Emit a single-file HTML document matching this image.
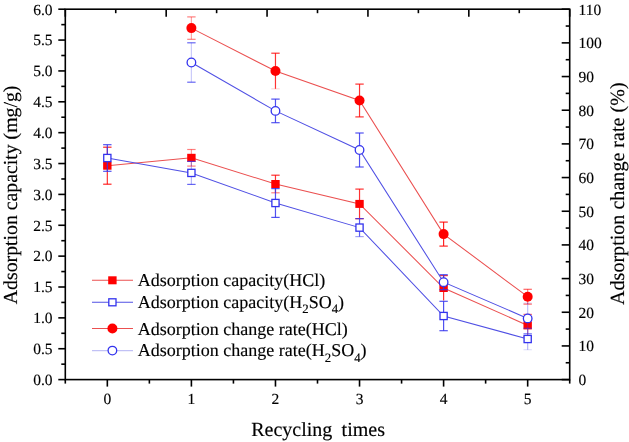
<!DOCTYPE html><html><head><meta charset="utf-8"><style>html,body{margin:0;padding:0;background:#fff;}svg{display:block}text{font-family:"Liberation Serif",serif;fill:#000;stroke:#000;stroke-width:0.15px;text-rendering:geometricPrecision}</style></head><body>
<div style="will-change:transform;width:629px;height:442px">
<svg width="629" height="442" viewBox="0 0 629 442">
<rect width="629" height="442" fill="#fff"/>
<polyline points="107.33,165.70 191.40,157.80 275.47,184.00 359.53,203.90 443.60,288.00 527.67,325.40" fill="none" stroke="#eb5050" stroke-width="1.05"/>
<line x1="107.33" y1="147.20" x2="107.33" y2="184.20" stroke="#ff0000" stroke-width="1.2" opacity="0.8"/>
<line x1="103.13" y1="147.20" x2="111.53" y2="147.20" stroke="#ff0000" stroke-width="1.2" opacity="0.85"/>
<line x1="103.13" y1="184.20" x2="111.53" y2="184.20" stroke="#ff0000" stroke-width="1.2" opacity="0.85"/>
<line x1="191.40" y1="149.50" x2="191.40" y2="166.10" stroke="#ff0000" stroke-width="1.2" opacity="0.4"/>
<line x1="187.20" y1="149.50" x2="195.60" y2="149.50" stroke="#ff0000" stroke-width="1.2" opacity="0.5"/>
<line x1="187.20" y1="166.10" x2="195.60" y2="166.10" stroke="#ff0000" stroke-width="1.2" opacity="0.5"/>
<line x1="275.47" y1="175.20" x2="275.47" y2="192.80" stroke="#ff0000" stroke-width="1.2" opacity="0.8"/>
<line x1="271.27" y1="175.20" x2="279.67" y2="175.20" stroke="#ff0000" stroke-width="1.2" opacity="0.8"/>
<line x1="271.27" y1="192.80" x2="279.67" y2="192.80" stroke="#ff0000" stroke-width="1.2" opacity="0.5"/>
<line x1="359.53" y1="189.10" x2="359.53" y2="218.70" stroke="#ff0000" stroke-width="1.2" opacity="0.8"/>
<line x1="355.33" y1="189.10" x2="363.73" y2="189.10" stroke="#ff0000" stroke-width="1.2" opacity="0.8"/>
<line x1="355.33" y1="218.70" x2="363.73" y2="218.70" stroke="#ff0000" stroke-width="1.2" opacity="0.8"/>
<line x1="443.60" y1="275.60" x2="443.60" y2="300.40" stroke="#ff0000" stroke-width="1.2" opacity="0.8"/>
<line x1="439.40" y1="275.60" x2="447.80" y2="275.60" stroke="#ff0000" stroke-width="1.2" opacity="0.8"/>
<line x1="527.67" y1="314.40" x2="527.67" y2="336.40" stroke="#ff0000" stroke-width="1.2" opacity="0.5"/>
<line x1="523.47" y1="314.40" x2="531.87" y2="314.40" stroke="#ff0000" stroke-width="1.2" opacity="0.6"/>
<line x1="523.47" y1="336.40" x2="531.87" y2="336.40" stroke="#ff0000" stroke-width="1.2" opacity="0.6"/>
<rect x="103.13" y="161.70" width="8.4" height="8.0" fill="#ff0000"/>
<rect x="187.20" y="153.80" width="8.4" height="8.0" fill="#ff0000"/>
<rect x="271.27" y="180.00" width="8.4" height="8.0" fill="#ff0000"/>
<rect x="355.33" y="199.90" width="8.4" height="8.0" fill="#ff0000"/>
<rect x="439.40" y="284.00" width="8.4" height="8.0" fill="#ff0000"/>
<rect x="523.47" y="321.40" width="8.4" height="8.0" fill="#ff0000"/>
<polyline points="107.33,158.00 191.40,172.90 275.47,203.00 359.53,227.60 443.60,316.00 527.67,339.00" fill="none" stroke="#5050e4" stroke-width="1.05"/>
<line x1="107.33" y1="144.70" x2="107.33" y2="171.30" stroke="#3333ee" stroke-width="1.2" opacity="0.85"/>
<line x1="103.13" y1="144.70" x2="111.53" y2="144.70" stroke="#3333ee" stroke-width="1.2" opacity="0.85"/>
<line x1="103.13" y1="171.30" x2="111.53" y2="171.30" stroke="#3333ee" stroke-width="1.2" opacity="0.85"/>
<line x1="191.40" y1="161.40" x2="191.40" y2="184.40" stroke="#3333ee" stroke-width="1.2" opacity="0.35"/>
<line x1="187.20" y1="161.40" x2="195.60" y2="161.40" stroke="#3333ee" stroke-width="1.2" opacity="0.75"/>
<line x1="187.20" y1="184.40" x2="195.60" y2="184.40" stroke="#3333ee" stroke-width="1.2" opacity="0.75"/>
<line x1="275.47" y1="188.60" x2="275.47" y2="217.40" stroke="#3333ee" stroke-width="1.2" opacity="0.85"/>
<line x1="271.27" y1="188.60" x2="279.67" y2="188.60" stroke="#3333ee" stroke-width="1.2" opacity="0.85"/>
<line x1="271.27" y1="217.40" x2="279.67" y2="217.40" stroke="#3333ee" stroke-width="1.2" opacity="0.85"/>
<line x1="359.53" y1="218.60" x2="359.53" y2="236.60" stroke="#3333ee" stroke-width="1.2" opacity="0.8"/>
<line x1="355.33" y1="218.60" x2="363.73" y2="218.60" stroke="#3333ee" stroke-width="1.2" opacity="0.8"/>
<line x1="355.33" y1="236.60" x2="363.73" y2="236.60" stroke="#3333ee" stroke-width="1.2" opacity="0.45"/>
<line x1="443.60" y1="301.30" x2="443.60" y2="330.70" stroke="#3333ee" stroke-width="1.2" opacity="0.85"/>
<line x1="439.40" y1="301.30" x2="447.80" y2="301.30" stroke="#3333ee" stroke-width="1.2" opacity="0.85"/>
<line x1="439.40" y1="330.70" x2="447.80" y2="330.70" stroke="#3333ee" stroke-width="1.2" opacity="0.85"/>
<line x1="527.67" y1="328.30" x2="527.67" y2="349.70" stroke="#3333ee" stroke-width="1.2" opacity="0.35"/>
<line x1="523.47" y1="328.30" x2="531.87" y2="328.30" stroke="#3333ee" stroke-width="1.2" opacity="0.6"/>
<line x1="523.47" y1="349.70" x2="531.87" y2="349.70" stroke="#3333ee" stroke-width="1.2" opacity="0.15"/>
<rect x="103.73" y="154.40" width="7.2" height="7.2" fill="#fff" stroke="#3333ee" stroke-width="1.3"/>
<rect x="187.80" y="169.30" width="7.2" height="7.2" fill="#fff" stroke="#3333ee" stroke-width="1.3"/>
<rect x="271.87" y="199.40" width="7.2" height="7.2" fill="#fff" stroke="#3333ee" stroke-width="1.3"/>
<rect x="355.93" y="224.00" width="7.2" height="7.2" fill="#fff" stroke="#3333ee" stroke-width="1.3"/>
<rect x="440.00" y="312.40" width="7.2" height="7.2" fill="#fff" stroke="#3333ee" stroke-width="1.3"/>
<rect x="524.07" y="335.40" width="7.2" height="7.2" fill="#fff" stroke="#3333ee" stroke-width="1.3"/>
<polyline points="191.40,28.10 275.47,71.00 359.53,100.50 443.60,234.10 527.67,296.70" fill="none" stroke="#eb5050" stroke-width="1.05"/>
<line x1="191.40" y1="16.90" x2="191.40" y2="39.30" stroke="#ff0000" stroke-width="1.2" opacity="0.35"/>
<line x1="187.20" y1="16.90" x2="195.60" y2="16.90" stroke="#ff0000" stroke-width="1.2" opacity="0.5"/>
<line x1="187.20" y1="39.30" x2="195.60" y2="39.30" stroke="#ff0000" stroke-width="1.2" opacity="0.5"/>
<line x1="275.47" y1="53.20" x2="275.47" y2="88.80" stroke="#ff0000" stroke-width="1.2" opacity="0.8"/>
<line x1="271.27" y1="53.20" x2="279.67" y2="53.20" stroke="#ff0000" stroke-width="1.2" opacity="0.8"/>
<line x1="271.27" y1="88.80" x2="279.67" y2="88.80" stroke="#ff0000" stroke-width="1.2" opacity="0.15"/>
<line x1="359.53" y1="84.10" x2="359.53" y2="116.90" stroke="#ff0000" stroke-width="1.2" opacity="0.8"/>
<line x1="355.33" y1="84.10" x2="363.73" y2="84.10" stroke="#ff0000" stroke-width="1.2" opacity="0.8"/>
<line x1="355.33" y1="116.90" x2="363.73" y2="116.90" stroke="#ff0000" stroke-width="1.2" opacity="0.8"/>
<line x1="443.60" y1="222.10" x2="443.60" y2="246.10" stroke="#ff0000" stroke-width="1.2" opacity="0.85"/>
<line x1="439.40" y1="222.10" x2="447.80" y2="222.10" stroke="#ff0000" stroke-width="1.2" opacity="0.85"/>
<line x1="439.40" y1="246.10" x2="447.80" y2="246.10" stroke="#ff0000" stroke-width="1.2" opacity="0.85"/>
<line x1="527.67" y1="289.30" x2="527.67" y2="304.10" stroke="#ff0000" stroke-width="1.2" opacity="0.5"/>
<line x1="523.47" y1="289.30" x2="531.87" y2="289.30" stroke="#ff0000" stroke-width="1.2" opacity="0.6"/>
<line x1="523.47" y1="304.10" x2="531.87" y2="304.10" stroke="#ff0000" stroke-width="1.2" opacity="0.6"/>
<circle cx="191.40" cy="28.10" r="5.0" fill="#ff0000"/>
<circle cx="275.47" cy="71.00" r="5.0" fill="#ff0000"/>
<circle cx="359.53" cy="100.50" r="5.0" fill="#ff0000"/>
<circle cx="443.60" cy="234.10" r="5.0" fill="#ff0000"/>
<circle cx="527.67" cy="296.70" r="5.0" fill="#ff0000"/>
<polyline points="191.40,62.50 275.47,110.90 359.53,150.00 443.60,282.20 527.67,318.40" fill="none" stroke="#5050e4" stroke-width="1.05"/>
<line x1="191.40" y1="42.80" x2="191.40" y2="82.20" stroke="#3333ee" stroke-width="1.2" opacity="0.25"/>
<line x1="187.20" y1="42.80" x2="195.60" y2="42.80" stroke="#3333ee" stroke-width="1.2" opacity="0.75"/>
<line x1="187.20" y1="82.20" x2="195.60" y2="82.20" stroke="#3333ee" stroke-width="1.2" opacity="0.75"/>
<line x1="275.47" y1="99.10" x2="275.47" y2="122.70" stroke="#3333ee" stroke-width="1.2" opacity="0.85"/>
<line x1="271.27" y1="99.10" x2="279.67" y2="99.10" stroke="#3333ee" stroke-width="1.2" opacity="0.85"/>
<line x1="271.27" y1="122.70" x2="279.67" y2="122.70" stroke="#3333ee" stroke-width="1.2" opacity="0.85"/>
<line x1="359.53" y1="133.00" x2="359.53" y2="167.00" stroke="#3333ee" stroke-width="1.2" opacity="0.85"/>
<line x1="355.33" y1="133.00" x2="363.73" y2="133.00" stroke="#3333ee" stroke-width="1.2" opacity="0.85"/>
<line x1="355.33" y1="167.00" x2="363.73" y2="167.00" stroke="#3333ee" stroke-width="1.2" opacity="0.85"/>
<line x1="443.60" y1="274.70" x2="443.60" y2="289.70" stroke="#3333ee" stroke-width="1.2" opacity="0.85"/>
<line x1="439.40" y1="274.70" x2="447.80" y2="274.70" stroke="#3333ee" stroke-width="1.2" opacity="0.85"/>
<line x1="439.40" y1="289.70" x2="447.80" y2="289.70" stroke="#3333ee" stroke-width="1.2" opacity="0.85"/>
<line x1="527.67" y1="303.10" x2="527.67" y2="333.70" stroke="#3333ee" stroke-width="1.2" opacity="0.3"/>
<line x1="523.47" y1="303.10" x2="531.87" y2="303.10" stroke="#3333ee" stroke-width="1.2" opacity="0.15"/>
<line x1="523.47" y1="333.70" x2="531.87" y2="333.70" stroke="#3333ee" stroke-width="1.2" opacity="0.6"/>
<circle cx="191.40" cy="62.50" r="4.3" fill="#fff" stroke="#3333ee" stroke-width="1.3"/>
<circle cx="275.47" cy="110.90" r="4.3" fill="#fff" stroke="#3333ee" stroke-width="1.3"/>
<circle cx="359.53" cy="150.00" r="4.3" fill="#fff" stroke="#3333ee" stroke-width="1.3"/>
<circle cx="443.60" cy="282.20" r="4.3" fill="#fff" stroke="#3333ee" stroke-width="1.3"/>
<circle cx="527.67" cy="318.40" r="4.3" fill="#fff" stroke="#3333ee" stroke-width="1.3"/>
<g stroke="#000" stroke-width="1.6" fill="none">
<rect x="65.3" y="9.2" width="504.40" height="370.40"/>
<line x1="58.3" y1="379.60" x2="65.3" y2="379.60"/>
<line x1="61.3" y1="364.17" x2="65.3" y2="364.17"/>
<line x1="58.3" y1="348.73" x2="65.3" y2="348.73"/>
<line x1="61.3" y1="333.30" x2="65.3" y2="333.30"/>
<line x1="58.3" y1="317.87" x2="65.3" y2="317.87"/>
<line x1="61.3" y1="302.43" x2="65.3" y2="302.43"/>
<line x1="58.3" y1="287.00" x2="65.3" y2="287.00"/>
<line x1="61.3" y1="271.57" x2="65.3" y2="271.57"/>
<line x1="58.3" y1="256.13" x2="65.3" y2="256.13"/>
<line x1="61.3" y1="240.70" x2="65.3" y2="240.70"/>
<line x1="58.3" y1="225.27" x2="65.3" y2="225.27"/>
<line x1="61.3" y1="209.83" x2="65.3" y2="209.83"/>
<line x1="58.3" y1="194.40" x2="65.3" y2="194.40"/>
<line x1="61.3" y1="178.97" x2="65.3" y2="178.97"/>
<line x1="58.3" y1="163.53" x2="65.3" y2="163.53"/>
<line x1="61.3" y1="148.10" x2="65.3" y2="148.10"/>
<line x1="58.3" y1="132.67" x2="65.3" y2="132.67"/>
<line x1="61.3" y1="117.23" x2="65.3" y2="117.23"/>
<line x1="58.3" y1="101.80" x2="65.3" y2="101.80"/>
<line x1="61.3" y1="86.37" x2="65.3" y2="86.37"/>
<line x1="58.3" y1="70.93" x2="65.3" y2="70.93"/>
<line x1="61.3" y1="55.50" x2="65.3" y2="55.50"/>
<line x1="58.3" y1="40.07" x2="65.3" y2="40.07"/>
<line x1="61.3" y1="24.63" x2="65.3" y2="24.63"/>
<line x1="58.3" y1="9.20" x2="65.3" y2="9.20"/>
<line x1="561.7" y1="379.60" x2="569.7" y2="379.60"/>
<line x1="565.7" y1="362.76" x2="569.7" y2="362.76"/>
<line x1="561.7" y1="345.93" x2="569.7" y2="345.93"/>
<line x1="565.7" y1="329.09" x2="569.7" y2="329.09"/>
<line x1="561.7" y1="312.25" x2="569.7" y2="312.25"/>
<line x1="565.7" y1="295.42" x2="569.7" y2="295.42"/>
<line x1="561.7" y1="278.58" x2="569.7" y2="278.58"/>
<line x1="565.7" y1="261.75" x2="569.7" y2="261.75"/>
<line x1="561.7" y1="244.91" x2="569.7" y2="244.91"/>
<line x1="565.7" y1="228.07" x2="569.7" y2="228.07"/>
<line x1="561.7" y1="211.24" x2="569.7" y2="211.24"/>
<line x1="565.7" y1="194.40" x2="569.7" y2="194.40"/>
<line x1="561.7" y1="177.56" x2="569.7" y2="177.56"/>
<line x1="565.7" y1="160.73" x2="569.7" y2="160.73"/>
<line x1="561.7" y1="143.89" x2="569.7" y2="143.89"/>
<line x1="565.7" y1="127.05" x2="569.7" y2="127.05"/>
<line x1="561.7" y1="110.22" x2="569.7" y2="110.22"/>
<line x1="565.7" y1="93.38" x2="569.7" y2="93.38"/>
<line x1="561.7" y1="76.55" x2="569.7" y2="76.55"/>
<line x1="565.7" y1="59.71" x2="569.7" y2="59.71"/>
<line x1="561.7" y1="42.87" x2="569.7" y2="42.87"/>
<line x1="565.7" y1="26.04" x2="569.7" y2="26.04"/>
<line x1="561.7" y1="9.20" x2="569.7" y2="9.20"/>
<line x1="65.30" y1="379.6" x2="65.30" y2="383.6"/>
<line x1="107.33" y1="379.6" x2="107.33" y2="386.6"/>
<line x1="149.37" y1="379.6" x2="149.37" y2="383.6"/>
<line x1="191.40" y1="379.6" x2="191.40" y2="386.6"/>
<line x1="233.43" y1="379.6" x2="233.43" y2="383.6"/>
<line x1="275.47" y1="379.6" x2="275.47" y2="386.6"/>
<line x1="317.50" y1="379.6" x2="317.50" y2="383.6"/>
<line x1="359.53" y1="379.6" x2="359.53" y2="386.6"/>
<line x1="401.57" y1="379.6" x2="401.57" y2="383.6"/>
<line x1="443.60" y1="379.6" x2="443.60" y2="386.6"/>
<line x1="485.63" y1="379.6" x2="485.63" y2="383.6"/>
<line x1="527.67" y1="379.6" x2="527.67" y2="386.6"/>
<line x1="569.70" y1="379.6" x2="569.70" y2="383.6"/>
<line x1="65.30" y1="9.2" x2="65.30" y2="16.7"/>
<line x1="115.74" y1="9.2" x2="115.74" y2="13.2"/>
<line x1="166.18" y1="9.2" x2="166.18" y2="16.7"/>
<line x1="216.62" y1="9.2" x2="216.62" y2="13.2"/>
<line x1="267.06" y1="9.2" x2="267.06" y2="16.7"/>
<line x1="317.50" y1="9.2" x2="317.50" y2="13.2"/>
<line x1="367.94" y1="9.2" x2="367.94" y2="16.7"/>
<line x1="418.38" y1="9.2" x2="418.38" y2="13.2"/>
<line x1="468.82" y1="9.2" x2="468.82" y2="16.7"/>
<line x1="519.26" y1="9.2" x2="519.26" y2="13.2"/>
<line x1="569.70" y1="9.2" x2="569.70" y2="16.7"/>
</g>
<text x="52.5" y="384.90" font-size="15.5" text-anchor="end">0.0</text>
<text x="52.5" y="354.03" font-size="15.5" text-anchor="end">0.5</text>
<text x="52.5" y="323.17" font-size="15.5" text-anchor="end">1.0</text>
<text x="52.5" y="292.30" font-size="15.5" text-anchor="end">1.5</text>
<text x="52.5" y="261.43" font-size="15.5" text-anchor="end">2.0</text>
<text x="52.5" y="230.57" font-size="15.5" text-anchor="end">2.5</text>
<text x="52.5" y="199.70" font-size="15.5" text-anchor="end">3.0</text>
<text x="52.5" y="168.83" font-size="15.5" text-anchor="end">3.5</text>
<text x="52.5" y="137.97" font-size="15.5" text-anchor="end">4.0</text>
<text x="52.5" y="107.10" font-size="15.5" text-anchor="end">4.5</text>
<text x="52.5" y="76.23" font-size="15.5" text-anchor="end">5.0</text>
<text x="52.5" y="45.37" font-size="15.5" text-anchor="end">5.5</text>
<text x="52.5" y="14.50" font-size="15.5" text-anchor="end">6.0</text>
<text x="578.5" y="384.90" font-size="15.5">0</text>
<text x="578.5" y="351.23" font-size="15.5">10</text>
<text x="578.5" y="317.55" font-size="15.5">20</text>
<text x="578.5" y="283.88" font-size="15.5">30</text>
<text x="578.5" y="250.21" font-size="15.5">40</text>
<text x="578.5" y="216.54" font-size="15.5">50</text>
<text x="578.5" y="182.86" font-size="15.5">60</text>
<text x="578.5" y="149.19" font-size="15.5">70</text>
<text x="578.5" y="115.52" font-size="15.5">80</text>
<text x="578.5" y="81.85" font-size="15.5">90</text>
<text x="578.5" y="48.17" font-size="15.5">100</text>
<text x="578.5" y="14.50" font-size="15.5">110</text>
<text x="107.33" y="404" font-size="15.5" text-anchor="middle">0</text>
<text x="191.40" y="404" font-size="15.5" text-anchor="middle">1</text>
<text x="275.47" y="404" font-size="15.5" text-anchor="middle">2</text>
<text x="359.53" y="404" font-size="15.5" text-anchor="middle">3</text>
<text x="443.60" y="404" font-size="15.5" text-anchor="middle">4</text>
<text x="527.67" y="404" font-size="15.5" text-anchor="middle">5</text>
<text x="251.2" y="435.8" font-size="20">Recycling</text><text x="341.6" y="435.8" font-size="20">times</text>
<text transform="translate(17.3,304.2) rotate(-90)" font-size="19.8">Adsorption capacity (mg/g)</text>
<text transform="translate(624,305) rotate(-90)" font-size="20.1">Adsorption change rate (%)</text>
<line x1="92.0" y1="280.3" x2="133.0" y2="280.3" stroke="#eb5050" stroke-width="1.05"/>
<rect x="108.2" y="276.3" width="8.4" height="8" fill="#ff0000"/>
<line x1="92.0" y1="302.3" x2="133.0" y2="302.3" stroke="#5050e4" stroke-width="1.05"/>
<rect x="108.80000000000001" y="298.8" width="7.2" height="7" fill="#fff" stroke="#3333ee" stroke-width="1.3"/>
<line x1="92.0" y1="328.5" x2="133.0" y2="328.5" stroke="#eb5050" stroke-width="1.05"/>
<circle cx="112.4" cy="328.5" r="5.0" fill="#ff0000"/>
<line x1="92.0" y1="350.6" x2="133.0" y2="350.6" stroke="#5050e4" stroke-width="1.05" opacity="0.35"/>
<circle cx="112.4" cy="350.6" r="4.3" fill="#fff" stroke="#3333ee" stroke-width="1.3"/>
<text x="137.8" y="286.1" font-size="18.0">Adsorption capacity(HCl)</text>
<text x="137.8" y="308.1" font-size="18.0">Adsorption capacity(H<tspan font-size="12.8" dy="5.2">2</tspan><tspan dy="-5.2">SO</tspan><tspan font-size="12.8" dy="5.2">4</tspan><tspan dy="-5.2">)</tspan></text>
<text x="137.8" y="335.1" font-size="18.0">Adsorption change rate(HCl)</text>
<text x="137.8" y="356.4" font-size="18.0">Adsorption change rate(H<tspan font-size="12.8" dy="5.2">2</tspan><tspan dy="-5.2">SO</tspan><tspan font-size="12.8" dy="5.2">4</tspan><tspan dy="-5.2">)</tspan></text>
</svg></div></body></html>
